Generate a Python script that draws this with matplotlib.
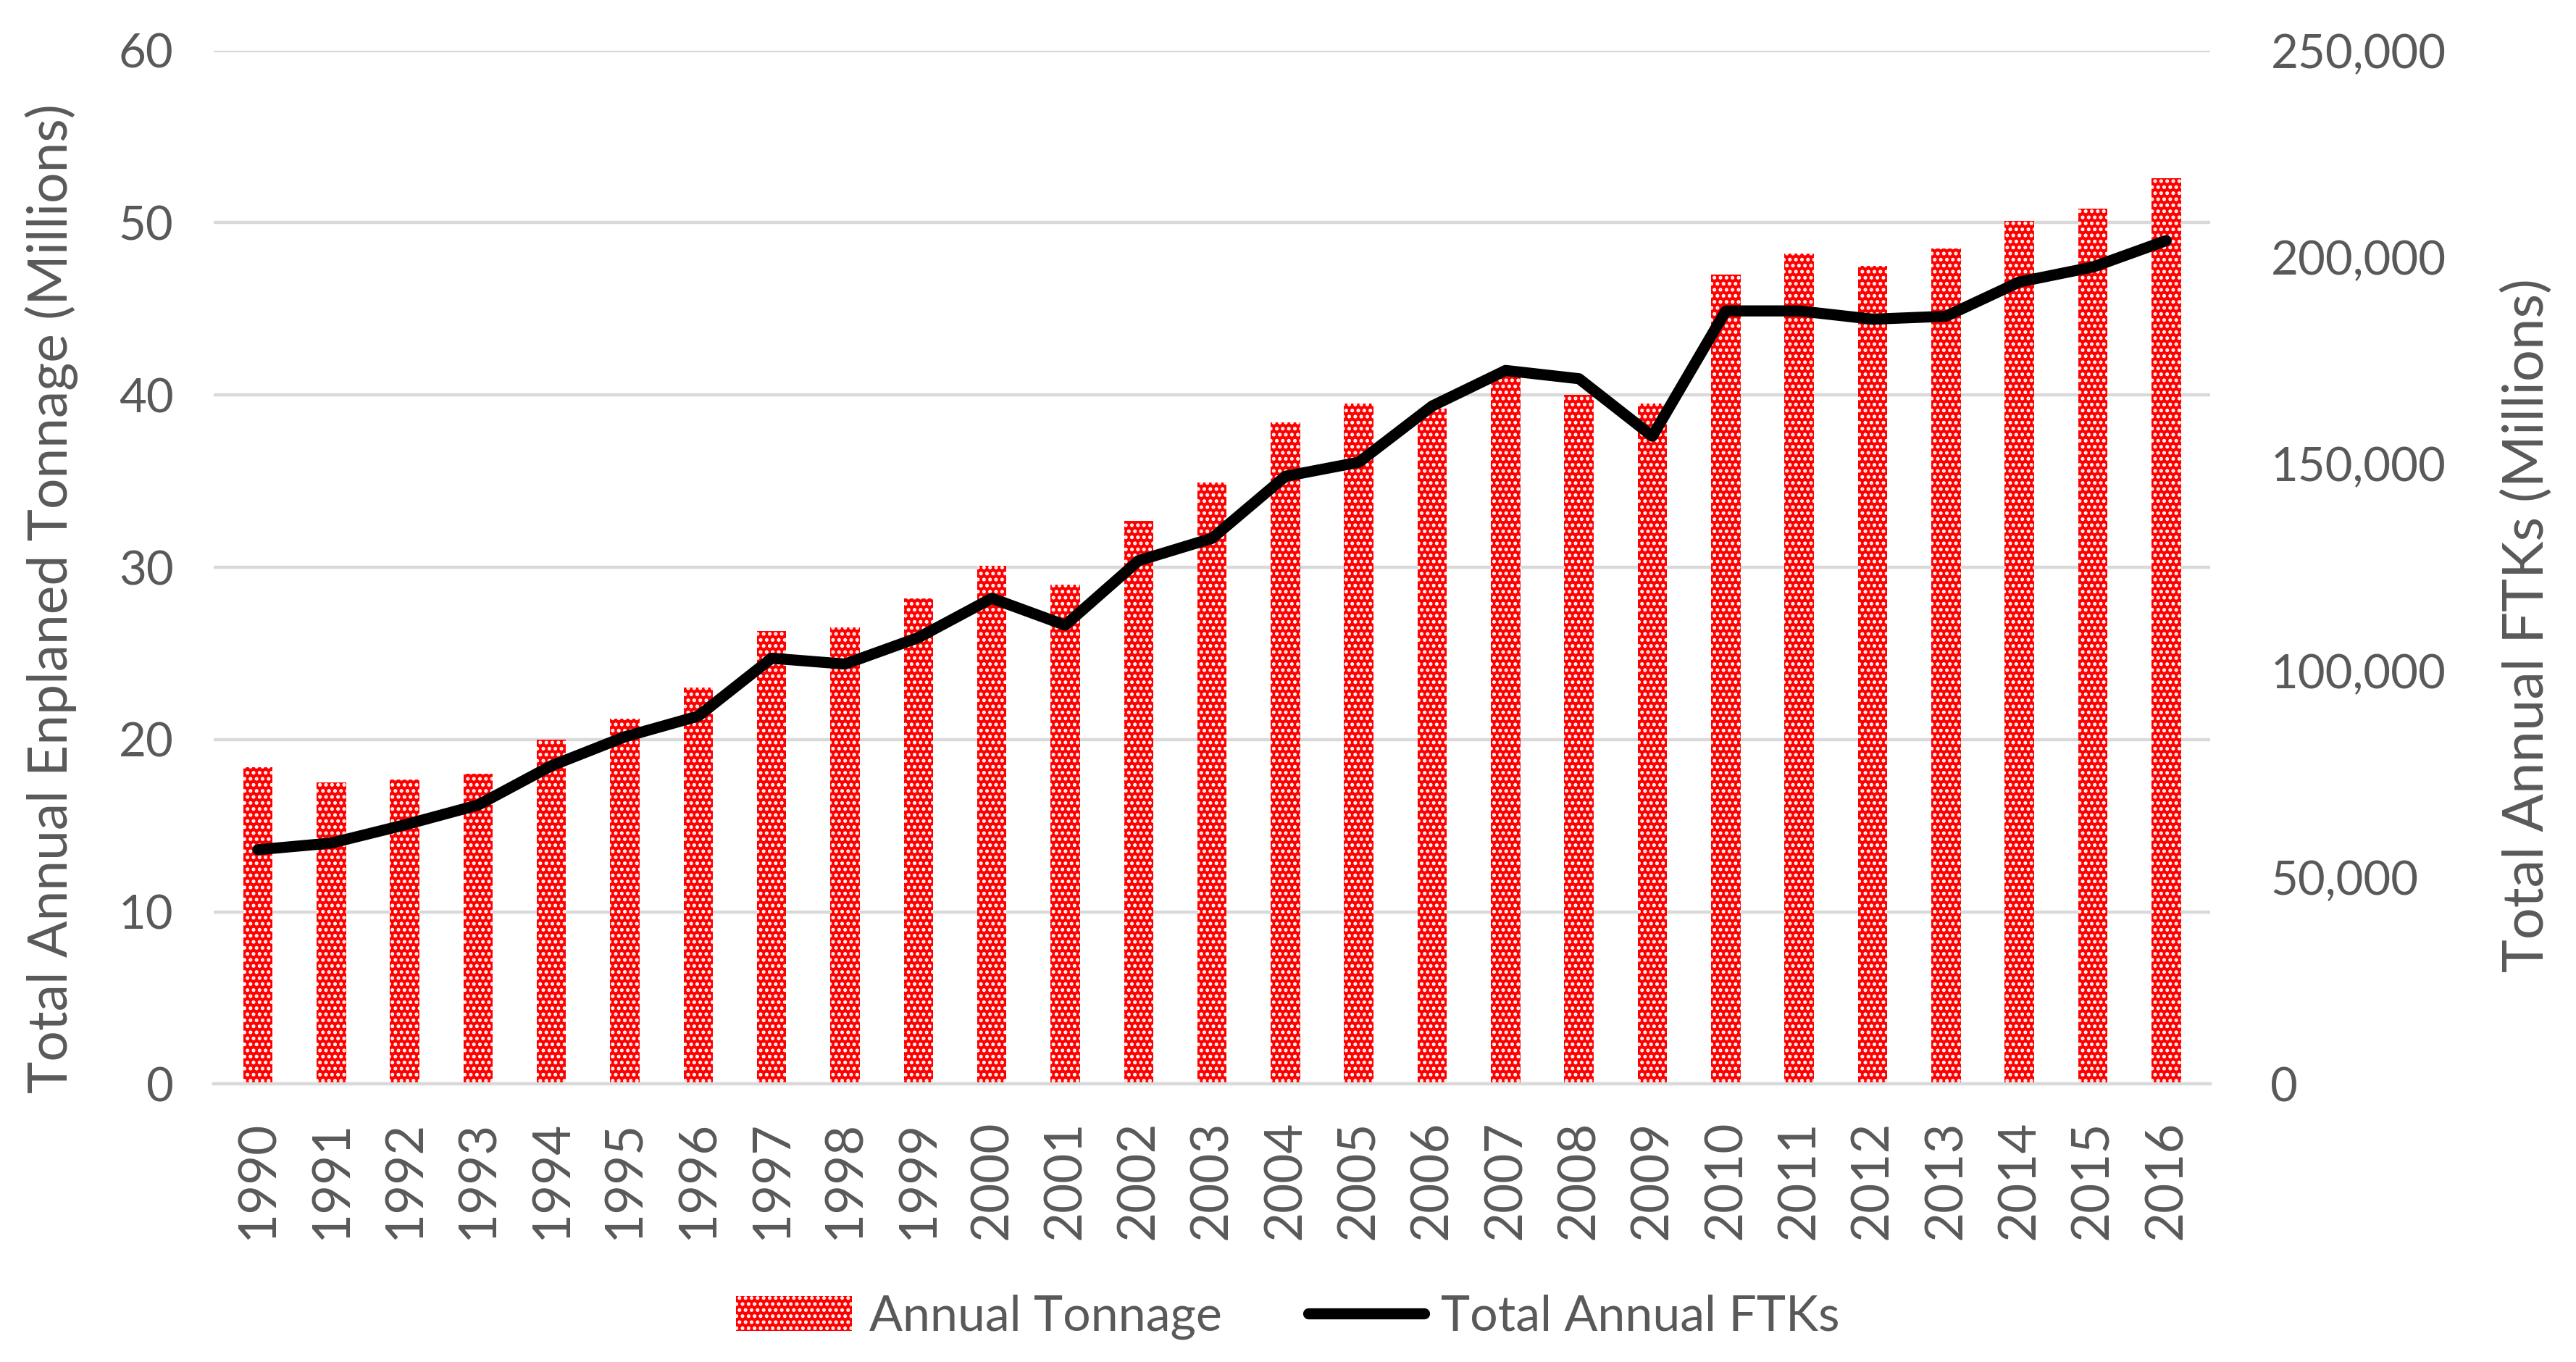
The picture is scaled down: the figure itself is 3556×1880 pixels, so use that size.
import matplotlib
matplotlib.use("Agg")
import matplotlib.pyplot as plt
from matplotlib.ticker import FuncFormatter, MultipleLocator

years = list(range(1990, 2017))
tonnage = [18.4, 17.5, 17.7, 18.0, 20.0, 21.2, 23.0, 26.3, 26.5, 28.2,
           30.1, 29.0, 32.7, 34.9, 38.4, 39.5, 39.2, 41.2, 40.0, 39.5,
           47.0, 48.2, 47.5, 48.5, 50.1, 50.8, 52.6]
ftks = [56700, 58300, 62700, 67500, 77000, 84000, 89000, 103000, 101600, 108000,
        117500, 111000, 126600, 132000, 147000, 150400, 164000, 172600, 170600, 156700,
        187000, 187000, 185000, 185700, 194000, 197600, 204000]

gray = "#595959"
plt.rcParams.update({"font.family": ["Lato", "DejaVu Sans"], "hatch.linewidth": 1.2})

fig = plt.figure(figsize=(17.78, 9.4), dpi=200, facecolor="white")
ax = fig.add_axes([0.083, 0.204, 0.775, 0.759])
ax2 = ax.twinx()

x = list(range(len(years)))
red_bars = ax.bar(x, tonnage, width=0.4, color="#ff0000", zorder=2)
dot_bars = ax.bar(x, tonnage, width=0.4, facecolor="none", edgecolor="white",
                  hatch="....", linewidth=0, zorder=3)
line, = ax2.plot(x, ftks, color="black", linewidth=5.5, solid_capstyle="round", zorder=4)

ax.set_ylim(0, 60)
ax.yaxis.set_major_locator(MultipleLocator(10))
ax2.set_ylim(0, 250000)
ax2.yaxis.set_major_locator(MultipleLocator(50000))
ax2.yaxis.set_major_formatter(FuncFormatter(lambda v, p: f"{int(v):,}"))
ax.set_xlim(-0.6, len(years) - 0.4)
ax.set_xticks(x)
ax.set_xticklabels([str(y) for y in years], rotation=90)

ax.grid(axis="y", color="#d9d9d9", linewidth=1.6, zorder=0)
ax.set_axisbelow(True)
for a in (ax, ax2):
    for s in a.spines.values():
        s.set_visible(False)
    a.tick_params(length=0, labelsize=23.5, labelcolor=gray)
ax.tick_params(axis="y", pad=20)
ax2.tick_params(axis="y", pad=30)
ax.spines["bottom"].set_visible(True)
ax.spines["bottom"].set_color("#d9d9d9")
ax.spines["bottom"].set_linewidth(1.6)
ax.tick_params(axis="x", labelsize=25.5, pad=18)

ax.set_ylabel("Total Annual Enplaned Tonnage (Millions)", fontsize=27, color=gray)
ax.yaxis.set_label_coords(-0.068, 0.47)
ax2.set_ylabel("Total Annual FTKs (Millions)", fontsize=28, color=gray)
ax2.yaxis.set_label_coords(1.146, 0.444)

ax2.set_zorder(ax.get_zorder() + 1)
ax2.patch.set_visible(False)

fig.legend([(red_bars, dot_bars), line], ["Annual Tonnage", "Total Annual FTKs"],
           loc="center", bbox_to_anchor=(0.5, 0.033), ncol=2, frameon=False,
           fontsize=24.5, labelcolor=gray, handlelength=2.35, handletextpad=0.35,
           columnspacing=1.75)

fig.savefig("out.png", dpi=200, facecolor="white")
